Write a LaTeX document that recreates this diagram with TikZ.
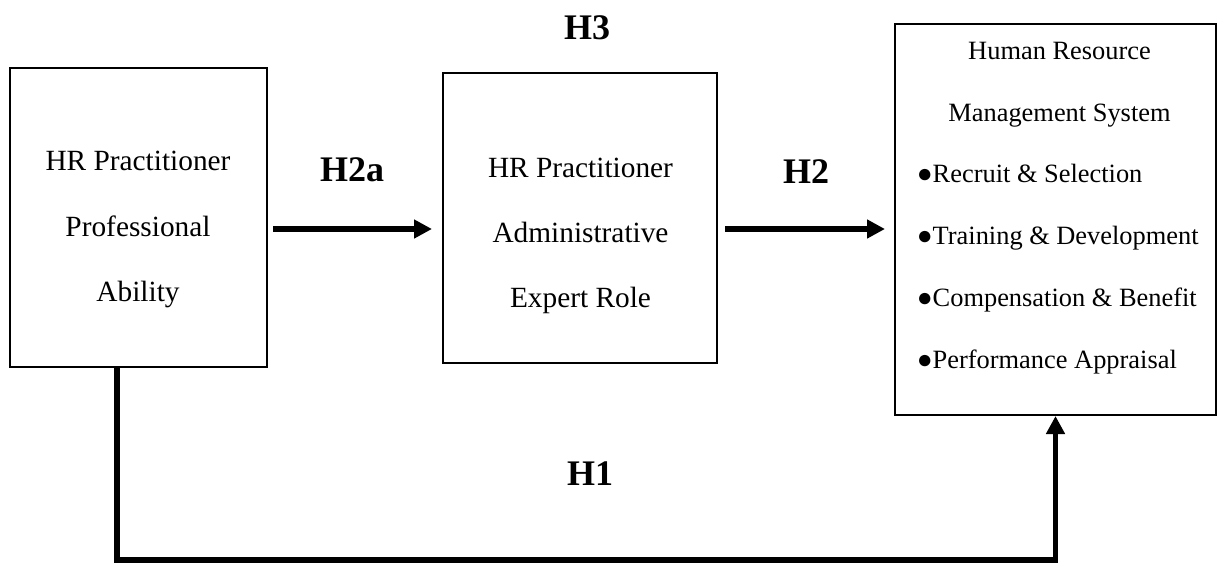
\documentclass[tikz,border=0pt]{standalone}
\usepackage{fontspec}
\setmainfont{Liberation Serif}
\usetikzlibrary{arrows.meta}
\begin{document}
\begin{tikzpicture}[x=0.75pt,y=-0.75pt,
  box/.style={draw, line width=1.5pt, inner sep=0pt, rectangle},
  body/.style={inner sep=0pt, align=center, font=\fontsize{22}{49}\selectfont},
  listtext/.style={inner sep=0pt, align=left, font=\fontsize{19.8}{46.5}\selectfont},
  titletext/.style={inner sep=0pt, align=center, font=\fontsize{19.8}{46.5}\selectfont},
  hyp/.style={inner sep=0pt, font=\fontsize{27}{30}\selectfont\bfseries},
  arr/.style={line width=4.3pt, line join=miter, -{Triangle[length=13.5pt,width=13.5pt]}}]
\useasboundingbox (0,0) rectangle (1217,563);
% boxes
\node[box, minimum width=192.75pt, minimum height=224.25pt] (left) at (138.5,217.5) {};
\node[box, minimum width=205.5pt, minimum height=217.5pt] (mid) at (580,218) {};
\node[box, minimum width=240.75pt, minimum height=293.25pt] (right) at (1055.5,219.5) {};
% texts
\node[body] (lefttext) at (138,229.5) {HR Practitioner\\Professional\\Ability};
\node[body] (midtext) at (580.5,235.8) {HR Practitioner\\Administrative\\Expert Role};
\node[titletext] (righttitle) at (1059.5,85) {Human Resource\\Management System};
\node[listtext, anchor=west] (rightlist) at (916.5,269) {●Recruit \& Selection\\●Training \& Development\\●Compensation \& Benefit\\●Performance Appraisal};
% labels
\node[hyp] (h3) at (587,28) {H3};
\node[hyp] (h2a) at (352,170) {H2a};
\node[hyp] (h2) at (806,171.5) {H2};
\node[hyp] (h1) at (590,474) {H1};
% connectors
\draw[arr] ([shift={(5,11.5)}]left.east) -- ([shift={(-10,11)}]mid.west);
\draw[arr] ([shift={(7,11)}]mid.east) -- ([shift={(-9,9.5)}]right.west);
\draw[arr] ([shift={(-21.5,0)}]left.south) -- ++(0,192) -| (right.south);
\end{tikzpicture}
\end{document}
